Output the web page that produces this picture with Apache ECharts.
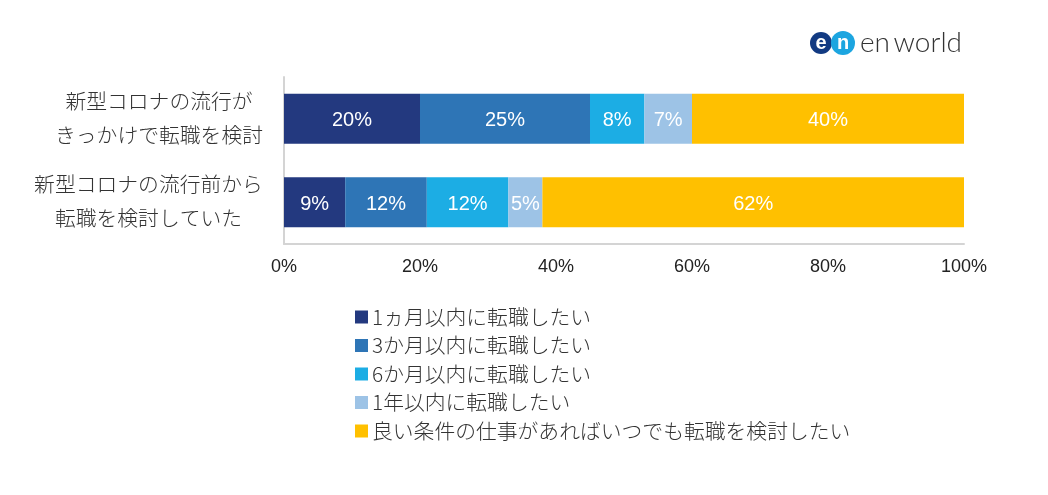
<!DOCTYPE html>
<html>
<head>
<meta charset="utf-8">
<title>転職検討時期</title>
<script src="https://cdn.jsdelivr.net/npm/echarts@6/dist/echarts.min.js"></script>
<style>
html, body { margin: 0; padding: 0; background: #fff; }
#chart { width: 1048px; height: 495px; }
</style>
</head>
<body>
<div id="chart"></div>
<script>
const categories = ['新型コロナの流行が\nきっかけで転職を検討', '新型コロナの流行前から\n転職を検討していた'];
const seriesNames = ['1ヵ月以内に転職したい', '3か月以内に転職したい', '6か月以内に転職したい', '1年以内に転職したい', '良い条件の仕事があればいつでも転職を検討したい'];
const within1Month = [20, 9];
const within3Months = [25, 12];
const within6Months = [8, 12];
const within1Year = [7, 5];
const anytime = [40, 62];
const xTicks = [0, 20, 40, 60, 80, 100];
const colors = ['#23397F', '#2E75B6', '#1CADE4', '#9DC3E6', '#FFC000'];

const jpFont = '"Noto Sans CJK JP"';
const seriesValues = [within1Month, within3Months, within6Months, within1Year, anytime];

const chart = echarts.init(document.getElementById('chart'), null, { renderer: 'canvas' });

chart.setOption({
    animation: false,
    backgroundColor: '#fff',
    grid: { left: 284, right: 84, top: 77, bottom: 251 },
    legend: {
        orient: 'vertical',
        left: 355,
        top: 306,
        padding: 0,
        itemWidth: 13,
        itemHeight: 13,
        itemGap: 6.5,
        icon: 'rect',
        data: seriesNames,
        textStyle: { fontFamily: jpFont, fontWeight: 300, fontSize: 20.8, lineHeight: 22, color: '#333', padding: [0, 0, 0, -1] }
    },
    xAxis: {
        type: 'value',
        min: xTicks[0],
        max: xTicks[xTicks.length - 1],
        interval: 20,
        splitLine: { show: false },
        axisTick: { show: false },
        axisLine: { show: true, lineStyle: { color: '#D4D4D4', width: 2 } },
        axisLabel: {
            margin: 14,
            fontFamily: '"Liberation Sans"',
            fontSize: 18,
            color: '#222',
            formatter: '{value}%'
        }
    },
    yAxis: {
        type: 'category',
        inverse: true,
        data: categories,
        axisTick: { show: false },
        axisLine: { show: true, lineStyle: { color: '#D4D4D4', width: 2 } },
        axisLabel: {
            margin: 21,
            align: 'right',
            padding: [0, 0, 2, 0],
            formatter: function (value, i) {
                return value.split('\n').map(function (s) {
                    return '{r' + i + '|' + s + '}';
                }).join('\n');
            },
            rich: {
                r0: { fontFamily: jpFont, fontWeight: 300, fontSize: 20.8, lineHeight: 34, color: '#333', width: 208, align: 'center' },
                r1: { fontFamily: jpFont, fontWeight: 300, fontSize: 20.8, lineHeight: 34, color: '#333', width: 229, align: 'center' }
            }
        }
    },
    series: seriesNames.map(function (name, i) {
        return {
            name: name,
            type: 'bar',
            stack: 'total',
            barWidth: 50,
            data: seriesValues[i],
            itemStyle: { color: colors[i] },
            label: {
                show: true,
                position: 'inside',
                offset: [0, 2],
                fontFamily: '"Liberation Sans"',
                fontSize: 20,
                color: '#fff',
                formatter: '{c}%'
            }
        };
    }),
    graphic: [
        { type: 'circle', shape: { cx: 821, cy: 43, r: 11 }, style: { fill: '#123A82' } },
        { type: 'circle', shape: { cx: 843, cy: 43, r: 12 }, style: { fill: '#1CA5E0' } },
        { type: 'text', x: 821, y: 43, style: { text: 'e', fill: '#fff', font: 'bold 20px "Liberation Sans"', textAlign: 'center', textVerticalAlign: 'middle' } },
        { type: 'text', x: 843, y: 43, style: { text: 'n', fill: '#fff', font: 'bold 20px "Liberation Sans"', textAlign: 'center', textVerticalAlign: 'middle' } },
        { type: 'text', x: 860, y: 43, style: { text: 'en', fill: '#333', font: '300 28px Lato', textVerticalAlign: 'middle' } },
        { type: 'text', x: 962, y: 43, style: { text: 'world', fill: '#333', font: '300 28px Lato', textAlign: 'right', textVerticalAlign: 'middle' } }
    ]
});
</script>
</body>
</html>
